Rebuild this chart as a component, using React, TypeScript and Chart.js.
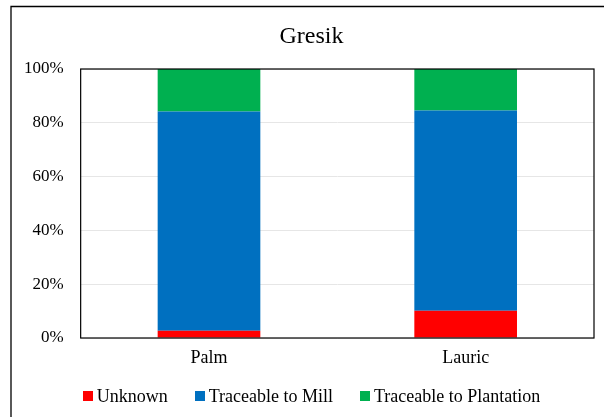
import React, { useEffect, useRef } from "react";
import { Chart, registerables } from "chart.js";

Chart.register(...registerables);

const categories = ["Palm", "Lauric"];
const unknownValues = [2.7, 10.1];
const millValues = [81.5, 74.5];
const plantationValues = [15.8, 15.4];
const seriesLabels = ["Unknown", "Traceable to Mill", "Traceable to Plantation"];
const seriesColors = ["#FF0000", "#0070C0", "#00B050"];
const titleText = "Gresik";

const FONT = "'Liberation Serif', 'Times New Roman', serif";

const framePlugin = {
  id: "frame",
  beforeDraw(chart: any) {
    const ctx = chart.ctx;
    ctx.save();
    ctx.fillStyle = "#ffffff";
    ctx.fillRect(0, 0, chart.width, chart.height);
    ctx.strokeStyle = "#000000";
    ctx.lineWidth = 1.3;
    ctx.beginPath();
    ctx.moveTo(11, chart.height);
    ctx.lineTo(11, 6.5);
    ctx.lineTo(chart.width, 6.5);
    ctx.stroke();
    ctx.restore();
  },
  afterDatasetsDraw(chart: any) {
    const { ctx, chartArea } = chart;
    ctx.save();
    ctx.strokeStyle = "#000000";
    ctx.lineWidth = 1.2;
    ctx.strokeRect(chartArea.left, chartArea.top, chartArea.right - chartArea.left, chartArea.bottom - chartArea.top);
    ctx.restore();
  },
  afterDraw(chart: any) {
    const ctx = chart.ctx;
    const centerX = 311.5;
    ctx.save();
    // title
    ctx.font = `24px ${FONT}`;
    ctx.textBaseline = "middle";
    ctx.textAlign = "center";
    ctx.fillStyle = "#000000";
    ctx.fillText(titleText, centerX, 37);
    // legend
    const box = 10;
    const textGap = 4;
    const itemGap = 27;
    const y = 396;
    ctx.font = `18px ${FONT}`;
    ctx.textAlign = "left";
    const items = chart.data.datasets.map((ds: any) => ({
      label: ds.label as string,
      color: ds.backgroundColor as string,
      w: box + textGap + ctx.measureText(ds.label).width,
    }));
    const total = items.reduce((s: number, it: any) => s + it.w, 0) + itemGap * (items.length - 1);
    let x = centerX - total / 2;
    items.forEach((it: any) => {
      ctx.fillStyle = it.color;
      ctx.fillRect(Math.round(x), y - 5, box, box);
      ctx.fillStyle = "#000000";
      ctx.fillText(it.label, x + box + textGap, y + 1);
      x += it.w + itemGap;
    });
    ctx.restore();
  },
};

export default function App() {
  const ref = useRef<HTMLCanvasElement | null>(null);
  useEffect(() => {
    document.body.style.margin = "0";
    const values = [unknownValues, millValues, plantationValues];
    const chart = new Chart(ref.current as HTMLCanvasElement, {
      type: "bar",
      data: {
        labels: categories,
        datasets: seriesLabels.map((label, i) => ({
          label,
          data: values[i],
          backgroundColor: seriesColors[i],
          borderWidth: 0,
          categoryPercentage: 1,
          barPercentage: 0.4,
        })),
      },
      options: {
        animation: false,
        responsive: false,
        devicePixelRatio: 1,
        layout: { padding: { top: 69, left: 7, right: 10, bottom: 39.4 } },
        plugins: {
          title: { display: false },
          legend: { display: false },
          tooltip: { enabled: false },
        },
        scales: {
          x: {
            stacked: true,
            grid: { display: false, drawTicks: false },
            border: { display: false },
            ticks: { color: "#000000", font: { family: FONT, size: 18 }, padding: 9 },
          },
          y: {
            stacked: true,
            min: 0,
            max: 100,
            grid: { color: "#e6e6e6", drawTicks: false },
            border: { display: false },
            ticks: {
              stepSize: 20,
              color: "#000000",
              font: { family: FONT, size: 17 },
              padding: 17,
              callback: (v: any) => v + "%",
            },
          },
        },
      },
      plugins: [framePlugin],
    });
    return () => chart.destroy();
  }, []);
  return <canvas ref={ref} width={604} height={417} style={{ display: "block" }} />;
}
